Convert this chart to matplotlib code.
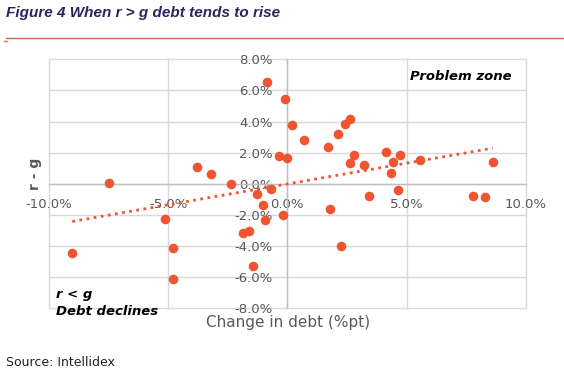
import numpy as np
import matplotlib
matplotlib.use('Agg')
import matplotlib.pyplot as plt
from matplotlib.ticker import FuncFormatter

# Verandering in schuld (%pt) en r - g (%)
debt_change = [-0.85, -0.11, 0.21, -0.36, 0.00, -3.80, -3.21, -7.49, -2.38, -1.29,
               -0.67, -1.04, 0.71, 1.69, 2.12, 2.41, 2.65, 2.78, 2.65, 3.21,
               4.12, 4.44, 4.37, 4.73, 5.57, 8.61, 4.66, 3.41, 7.78, 8.29,
               1.81, -9.02, -5.15, -4.78, -4.78, -0.94, -0.17, -1.84, -1.62, -1.44,
               2.26]
r_minus_g = [6.57, 5.45, 3.75, 1.77, 1.69, 1.06, 0.66, 0.05, -0.01, -0.66,
             -0.33, -1.38, 2.81, 2.35, 3.17, 3.82, 4.14, 1.84, 1.34, 1.19,
             2.05, 1.39, 0.68, 1.82, 1.50, 1.39, -0.38, -0.78, -0.78, -0.85,
             -1.63, -4.46, -2.25, -4.14, -6.14, -2.31, -2.01, -3.17, -3.04, -5.28,
             -3.97]

x_ticks = [-10, -5, 0, 5, 10]
y_ticks = [-8, -6, -4, -2, 0, 2, 4, 6, 8]

dot_color = '#EE5530'
grid_color = '#D9D9D9'
label_grey = '#595959'

fig = plt.figure(figsize=(5.64, 3.82), dpi=100)
ax = fig.add_axes([0.0867, 0.1929, 0.8454, 0.6518])

ax.set_xlim(-10, 10)
ax.set_ylim(-8, 8)
ax.set_xticks(x_ticks)
ax.set_yticks(y_ticks)
ax.xaxis.set_major_formatter(FuncFormatter(lambda v, p: f'{v:.1f}%'))
ax.yaxis.set_major_formatter(FuncFormatter(lambda v, p: f'{v:.1f}%'))

# assen door de oorsprong, zoals in Excel
ax.spines['left'].set_position('zero')
ax.spines['bottom'].set_position('zero')
for s in ['top', 'right']:
    ax.spines[s].set_visible(False)
for s in ['left', 'bottom']:
    ax.spines[s].set_color('#BFBFBF')
    ax.spines[s].set_linewidth(1)
ax.tick_params(length=0, labelsize=9.5, labelcolor=label_grey)
ax.tick_params(axis='y', pad=10.5)
ax.tick_params(axis='x', pad=10)

ax.grid(True, color=grid_color, linewidth=1)
for line in ax.get_xgridlines() + ax.get_ygridlines():
    line.set_clip_on(False)
ax.set_axisbelow(True)

ax.scatter(debt_change, r_minus_g, s=48, color=dot_color, zorder=5, clip_on=False,
           linewidths=0)

# trendlijn (lineaire regressie)
k, b = np.polyfit(debt_change, r_minus_g, 1)
xs = np.array([min(debt_change), max(debt_change)])
ax.plot(xs, k * xs + b, linestyle=(0, (1, 1.6)), color=dot_color, linewidth=2, zorder=4)

ax.text(9.4, 6.9, 'Problem zone', fontsize=9.5, fontweight='bold', fontstyle='italic',
        ha='right', va='center', color='black')
ax.text(-9.7, -7.1, 'r < g', fontsize=9.5, fontweight='bold', fontstyle='italic',
        ha='left', va='center', color='black')
ax.text(-9.7, -8.2, 'Debt declines', fontsize=9.5, fontweight='bold', fontstyle='italic',
        ha='left', va='center', color='black')

fig.text(287.7 / 564, 1 - 323 / 382, 'Change in debt (%pt)', fontsize=11,
         color=label_grey, ha='center', va='center')
fig.text(35 / 564, 1 - 174 / 382, 'r - g', fontsize=10, fontweight='bold',
         color=label_grey, rotation=90, ha='center', va='center')

fig.text(6 / 564, 1 - 13 / 382, 'Figure 4 When r > g debt tends to rise', fontsize=11,
         fontweight='bold', fontstyle='italic', color='#26265E', ha='left', va='center',
         family='Liberation Sans')
fig.add_artist(plt.Line2D([6 / 564, 1], [1 - 38.3 / 382] * 2, color='#C0705A', linewidth=1))
fig.add_artist(plt.Line2D([4 / 564, 7 / 564], [1 - 41 / 382] * 2, color='#E07050', linewidth=1))
fig.text(6 / 564, 1 - 363 / 382, 'Source: Intellidex', fontsize=9, color='#222222',
         ha='left', va='center')

fig.savefig('out.png', dpi=100)
